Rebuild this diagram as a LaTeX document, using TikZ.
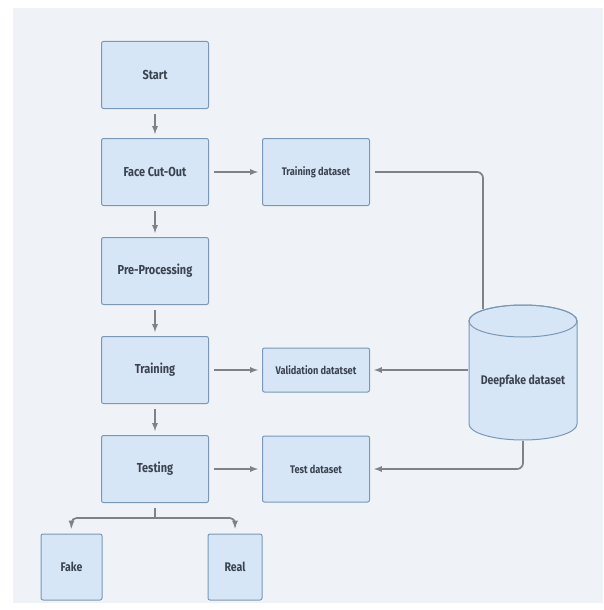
\documentclass[tikz,border=0pt]{standalone}
\usepackage{fontspec}
\setmainfont{Fira Sans}[FakeStretch=0.84]
\usetikzlibrary{arrows,shapes}
\definecolor{boxfill}{HTML}{D6E6F6}
\definecolor{boxline}{HTML}{7A98B6}
\definecolor{linkgray}{HTML}{7E838A}
\definecolor{labelink}{HTML}{3C4350}
\definecolor{canvas}{HTML}{EFF3F7}
\tikzstyle{stage}=[rectangle,rounded corners=2pt,draw=boxline,fill=boxfill,line width=1pt,text=labelink,font=\bfseries\fontsize{13}{15}\selectfont,minimum width=107pt,minimum height=67pt,inner sep=0pt]
\tikzstyle{dataset}=[stage,font=\bfseries\fontsize{11}{13}\selectfont]
\tikzstyle{link} = [draw=linkgray,line width=1.7pt,-latex,shorten <=5pt,shorten >=4pt]

\begin{document}
\begin{tikzpicture}[x=1pt,y=-1pt]
    % Canvas with the white strips at top and left
    \fill[white] (0,0) rectangle (603,610);
    \fill[canvas] (13,8) rectangle (603,603);
    % First we draw the stages of the pipeline
    \foreach \pos/\name/\lbl in {{(155,75)/start/Start}, {(155,172)/cutout/Face Cut-Out},
        {(155,271)/prep/Pre-Processing}, {(155,370)/train/Training}, {(155,469)/test/Testing}}
        \node[stage] (\name) at \pos {\lbl};
    % Then the datasets
    \foreach \pos/\name/\h/\lbl in {{(316,172)/trainset/67/Training dataset},
        {(316,370)/valset/44/Validation datatset}, {(316,469)/testset/66/Test dataset}}
        \node[dataset,minimum height=\h pt] (\name) at \pos {\lbl};
    % Outcomes
    \node[dataset,font=\bfseries\fontsize{12.5}{14}\selectfont,minimum width=61pt,minimum height=66pt] (fake) at (71.5,567) {Fake};
    \node[dataset,font=\bfseries\fontsize{12.5}{14}\selectfont,minimum width=54pt,minimum height=66pt] (real) at (235,567) {Real};
    % The Deepfake dataset drum
    \path[draw=boxline,fill=boxfill,line width=1pt] (469,321) -- (469,424) arc (180:0:54 and 16)
        -- (577,321) arc (0:-180:54 and 16) -- cycle;
    \draw[boxline,line width=1pt] (523,321) ellipse (54 and 16);
    \node[text=labelink,font=\bfseries\fontsize{12.5}{14}\selectfont] (db) at (523,381) {Deepfake dataset};
    \coordinate (dbtop) at (483,309);
    \coordinate (dbleft) at (468,370);
    \coordinate (dbbot) at (523,441);
    \coordinate (split) at (155,518);
    % Connect the stages with arrows
    \foreach \source/\dest in {start/cutout, cutout/prep, prep/train, train/test,
        cutout/trainset, train/valset, test/testset}
        \path[link] (\source) -- (\dest);
    % Links to and from the drum
    \path[link,-,shorten >=0pt,rounded corners=6pt] (trainset.east) -| (dbtop);
    \path[link,shorten <=0pt] (dbleft) -- (valset.east);
    \path[link,shorten <=0pt,rounded corners=6pt] (dbbot) |- (testset.east);
    % Split into the two outcomes
    \path[link,-,shorten >=0pt] (test.south) -- (split);
    \path[link,shorten <=0pt,shorten >=5pt,rounded corners=5pt] (split) -| (fake.north);
    \path[link,shorten <=0pt,shorten >=5pt,rounded corners=5pt] (split) -| (real.north);
\end{tikzpicture}
\end{document}
